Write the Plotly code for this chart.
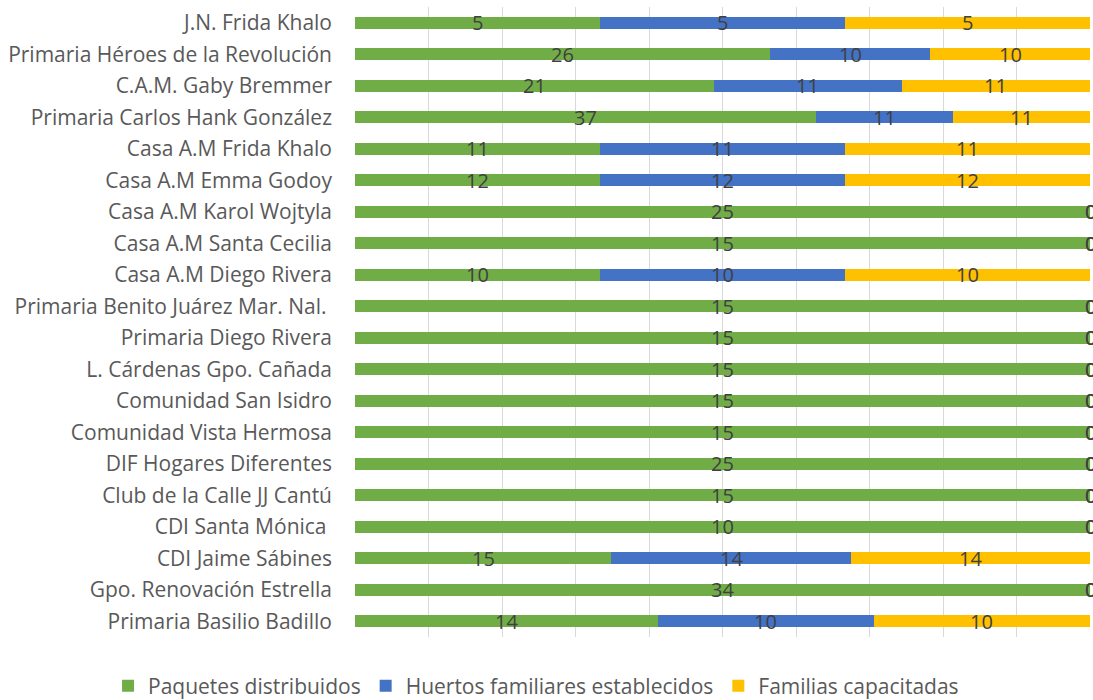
import plotly.graph_objects as go

escuelas = [
    "J.N. Frida Khalo",
    "Primaria Héroes de la Revolución",
    "C.A.M. Gaby Bremmer",
    "Primaria Carlos Hank González",
    "Casa A.M Frida Khalo",
    "Casa A.M Emma Godoy",
    "Casa A.M Karol Wojtyla",
    "Casa A.M Santa Cecilia",
    "Casa A.M Diego Rivera",
    "Primaria Benito Juárez Mar. Nal. ",
    "Primaria Diego Rivera",
    "L. Cárdenas Gpo. Cañada",
    "Comunidad San Isidro",
    "Comunidad Vista Hermosa",
    "DIF Hogares Diferentes",
    "Club de la Calle JJ Cantú",
    "CDI Santa Mónica ",
    "CDI Jaime Sábines",
    "Gpo. Renovación Estrella",
    "Primaria Basilio Badillo",
]
paquetes = [5, 26, 21, 37, 11, 12, 25, 15, 10, 15, 15, 15, 15, 15, 25, 15, 10, 15, 34, 14]
huertos = [5, 10, 11, 11, 11, 12, 0, 0, 10, 0, 0, 0, 0, 0, 0, 0, 0, 14, 0, 10]
familias = [5, 10, 11, 11, 11, 12, 0, 0, 10, 0, 0, 0, 0, 0, 0, 0, 0, 14, 0, 10]

series = [
    ("Paquetes distribuidos", paquetes, "#70AD47"),
    ("Huertos familiares establecidos", huertos, "#4472C4"),
    ("Familias capacitadas", familias, "#FFC000"),
]

FONT = "'Open Sans', Arial"

fig = go.Figure()
for nombre, vals, color in series:
    fig.add_trace(go.Bar(y=escuelas, x=vals, name=nombre, orientation="h",
                         marker=dict(color=color, line=dict(width=0))))

# etiquetas centradas en cada segmento (porcentaje)
anns = []
for i, esc in enumerate(escuelas):
    total = paquetes[i] + huertos[i] + familias[i]
    acum = 0
    for nombre, vals, color in series:
        v = vals[i]
        centro = (acum + v / 2) / total * 100
        acum += v
        anns.append(dict(x=centro, y=esc, xref="x", yref="y", text=str(v),
                         showarrow=False, yshift=0,
                         font=dict(size=20, color="#404040", family=FONT)))

fig.update_layout(
    barmode="stack",
    barnorm="percent",
    bargap=0.62,
    width=1093, height=700,
    margin=dict(l=355, r=3, t=7, b=63, autoexpand=False),
    plot_bgcolor="white",
    paper_bgcolor="white",
    font=dict(family=FONT, size=21, color="#595959"),
    annotations=anns,
    legend=dict(orientation="h", x=-0.336, xanchor="left", y=-0.078, yanchor="middle",
                font=dict(size=21, color="#595959"), itemwidth=30,
                traceorder="normal"),
)
fig.update_xaxes(range=[0, 100], dtick=10, showticklabels=False, showgrid=True,
                 gridcolor="#D9D9D9", gridwidth=1, zeroline=False, showline=False)
fig.update_yaxes(autorange="reversed", showgrid=False, ticks="", ticklabelstandoff=22,
                 tickfont=dict(size=21, color="#595959"))

# sin margen del body para que la figura ocupe la ventana
fig.write_html("out.html", config={"displayModeBar": False},
               post_script="document.body.style.margin='0';document.body.style.overflow='hidden';")
